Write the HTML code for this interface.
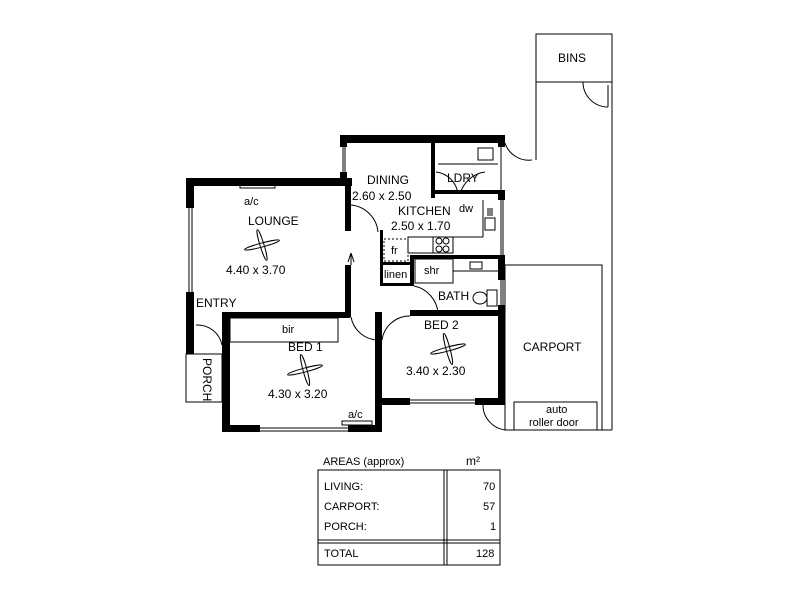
<!DOCTYPE html>
<html><head><meta charset="utf-8"><style>
body{margin:0;background:#fff}
svg text{font-family:"Liberation Sans",sans-serif;fill:#000}
</style></head><body>
<svg width="800" height="600" viewBox="0 0 800 600" xmlns="http://www.w3.org/2000/svg">
<g fill="#000">
<rect x="186" y="178" width="166" height="8"/>
<rect x="186" y="178" width="8" height="30"/>
<rect x="186" y="292" width="8" height="62"/>
<rect x="340" y="135" width="165" height="8"/>
<rect x="340" y="135" width="7" height="12"/>
<rect x="340" y="172" width="7" height="14"/>
<rect x="345" y="178" width="6" height="53"/>
<rect x="345" y="265" width="6" height="52"/>
<rect x="226" y="312" width="124" height="6"/>
<rect x="222" y="312" width="8" height="120"/>
<rect x="222" y="425" width="38" height="7"/>
<rect x="348" y="425" width="34" height="7"/>
<rect x="375" y="312" width="7" height="120"/>
<rect x="410" y="310" width="95" height="6"/>
<rect x="378" y="398" width="32" height="7"/>
<rect x="475" y="398" width="30" height="7"/>
<rect x="498" y="135" width="7" height="12"/>
<rect x="498" y="190" width="7" height="10"/>
<rect x="498" y="255" width="7" height="25"/>
<rect x="498" y="305" width="7" height="100"/>
<rect x="431" y="140" width="4" height="58"/>
<rect x="410" y="255" width="95" height="4"/>
<rect x="410" y="255" width="4" height="31"/>
<rect x="380" y="230" width="3" height="56"/>
<rect x="380" y="283" width="34" height="3"/>
<rect x="380" y="262" width="30" height="3"/>
<rect x="435" y="190" width="70" height="4"/>
</g>
<g fill="none" stroke="#000" stroke-width="1">
<line x1="189" y1="208" x2="189" y2="292"/><line x1="192" y1="208" x2="192" y2="292"/>
<line x1="343" y1="147" x2="343" y2="172"/><line x1="345" y1="147" x2="345" y2="172"/>
<line x1="260" y1="428" x2="348" y2="428"/><line x1="260" y1="431" x2="348" y2="431"/>
<line x1="410" y1="400" x2="475" y2="400"/><line x1="410" y1="403" x2="475" y2="403"/>
<line x1="501" y1="200" x2="501" y2="255"/><line x1="503" y1="200" x2="503" y2="255"/>
<line x1="501" y1="280" x2="501" y2="305"/><line x1="503" y1="280" x2="503" y2="305"/>
<line x1="501" y1="147" x2="501" y2="190"/>
<rect x="240" y="184" width="35" height="4"/>
<rect x="342" y="421" width="30" height="4"/>
<rect x="230" y="318" width="108" height="24"/>
<path d="M351 205 A30 30 0 0 1 378 232"/>
<path d="M351 317 A28 28 0 0 0 378 340"/>
<path d="M410 316 A28 28 0 0 0 382 340"/>
<path d="M414 286 A30 30 0 0 1 438 313"/>
<path d="M196 325 A25 25 0 0 1 222 345"/>
<rect x="186" y="354" width="36" height="48"/>
<rect x="384" y="239" width="24" height="22" stroke-dasharray="2 2"/>
<rect x="415" y="259" width="38" height="24"/>
<rect x="408" y="237" width="45" height="16"/><line x1="433" y1="237" x2="433" y2="253"/>
<circle cx="439" cy="241" r="3"/><circle cx="446" cy="241" r="3"/><circle cx="439" cy="249" r="3"/><circle cx="446" cy="249" r="3"/>
<line x1="438" y1="164" x2="498" y2="164"/><rect x="478" y="148" width="15" height="12"/>
<line x1="453" y1="271" x2="498" y2="271"/><rect x="470" y="262" width="12" height="7"/>
<rect x="487" y="290" width="10" height="16"/><ellipse cx="480" cy="298" rx="7" ry="6"/>
<rect x="485" y="218" width="10" height="12"/>
<line x1="488" y1="208" x2="488" y2="216"/><line x1="490" y1="208" x2="490" y2="216"/><line x1="492" y1="208" x2="492" y2="216"/>
<line x1="483" y1="200" x2="483" y2="237"/><line x1="483" y1="237" x2="453" y2="237"/>
<path d="M460 194 A30 30 0 0 1 485 172"/>
<path d="M458 194 A25 25 0 0 0 436 172"/>
<path d="M505 143 A25 25 0 0 0 532 160"/>
<rect x="536" y="34" width="76" height="48"/>
<line x1="536" y1="82" x2="536" y2="160"/><line x1="612" y1="82" x2="612" y2="430"/>
<path d="M583 82 A25 25 0 0 0 608 107"/><line x1="608" y1="85" x2="608" y2="107"/>
<rect x="505" y="265" width="97" height="165"/>
<rect x="514" y="402" width="83" height="28"/>
<path d="M483 405 A25 25 0 0 0 508 430"/>
<line x1="505" y1="430" x2="612" y2="430"/>
<ellipse cx="262" cy="245" rx="18" ry="2" transform="rotate(-15 262 245)"/>
<ellipse cx="262" cy="245" rx="16" ry="2" transform="rotate(73 262 245)"/>
<ellipse cx="305" cy="370" rx="18" ry="2" transform="rotate(-15 305 370)"/>
<ellipse cx="305" cy="370" rx="16" ry="2" transform="rotate(75 305 370)"/>
<ellipse cx="448" cy="349" rx="18" ry="2" transform="rotate(-15 448 349)"/>
<ellipse cx="448" cy="349" rx="16" ry="2" transform="rotate(75 448 349)"/>
<rect x="318" y="470" width="182" height="95"/>
<line x1="444" y1="470" x2="444" y2="565"/><line x1="447" y1="470" x2="447" y2="565"/>
<line x1="318" y1="540" x2="500" y2="540"/><line x1="318" y1="543" x2="500" y2="543"/>
</g>
<path d="M351 253 L348 262 M351 253 L354 262 M351 253 V265" stroke="#000" fill="none"/>
<g font-size="12">
<text x="248" y="225">LOUNGE</text>
<text x="244" y="205" font-size="11">a/c</text>
<text x="226" y="274">4.40 x 3.70</text>
<text x="196" y="307">ENTRY</text>
<text x="367" y="184">DINING</text>
<text x="352" y="200">2.60 x 2.50</text>
<text x="398" y="215">KITCHEN</text>
<text x="391" y="230">2.50 x 1.70</text>
<text x="447" y="182">LDRY</text>
<text x="459" y="212" font-size="11">dw</text>
<text x="391" y="254" font-size="11">fr</text>
<text x="384" y="278" font-size="11">linen</text>
<text x="424" y="274" font-size="11">shr</text>
<text x="438" y="300">BATH</text>
<text x="424" y="329">BED 2</text>
<text x="406" y="375">3.40 x 2.30</text>
<text x="282" y="333" font-size="11">bir</text>
<text x="288" y="351">BED 1</text>
<text x="268" y="398">4.30 x 3.20</text>
<text x="348" y="418" font-size="11">a/c</text>
<text x="523" y="351">CARPORT</text>
<text x="558" y="62">BINS</text>
<text x="546" y="413" font-size="11">auto</text>
<text x="529" y="426" font-size="11">roller door</text>
<text transform="translate(203,358) rotate(90)">PORCH</text>
<text x="323" y="465" font-size="11">AREAS (approx)</text>
<text x="466" y="465">m²</text>
<text x="324" y="490" font-size="11">LIVING:</text><text x="483" y="490" font-size="11">70</text>
<text x="324" y="510" font-size="11">CARPORT:</text><text x="483" y="510" font-size="11">57</text>
<text x="324" y="530" font-size="11">PORCH:</text><text x="490" y="530" font-size="11">1</text>
<text x="324" y="557" font-size="11">TOTAL</text><text x="476" y="557" font-size="11">128</text>
</g>
</svg>
</body></html>
